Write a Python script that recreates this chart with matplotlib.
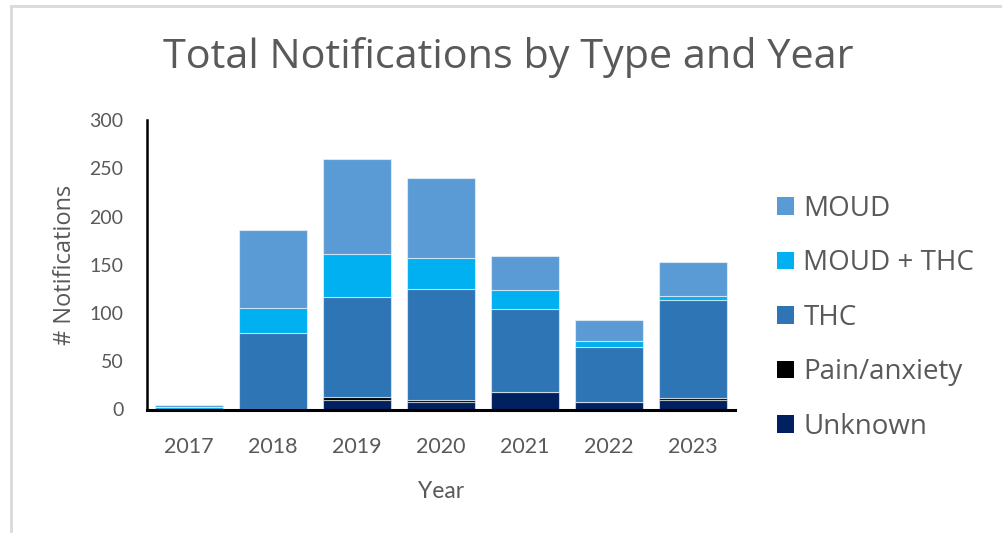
import matplotlib
matplotlib.use("Agg")
import matplotlib.pyplot as plt
from matplotlib.patches import Patch
import numpy as np

# Notification counts per year, split by type
years = ["2017", "2018", "2019", "2020", "2021", "2022", "2023"]
unknown = [0, 1, 10, 8, 18, 8, 10]
pain_anxiety = [0, 0, 3, 2, 0, 0, 2]
thc = [1, 78, 104, 115, 86, 57, 101]
moud_thc = [2, 26, 44, 32, 20, 6, 5]
moud = [2, 81, 99, 83, 35, 22, 35]

series = [
    ("Unknown", unknown, "#002060"),
    ("Pain/anxiety", pain_anxiety, "#000000"),
    ("THC", thc, "#2E75B6"),
    ("MOUD + THC", moud_thc, "#00B0F0"),
    ("MOUD", moud, "#5B9BD5"),
]

TEXT = "#595959"
W, H = 1002, 533

fig = plt.figure(figsize=(W / 100, H / 100), dpi=100)
fig.patch.set_facecolor("white")

# light frame along the top and left of the chart area
fig.add_artist(plt.Line2D([11 / W, 11 / W], [0, 1 - 6 / H], transform=fig.transFigure,
                          color="#d9d9d9", lw=2))
fig.add_artist(plt.Line2D([11 / W, 1], [1 - 6 / H, 1 - 6 / H], transform=fig.transFigure,
                          color="#d9d9d9", lw=2))

ax = fig.add_axes([147 / W, 1 - 409.5 / H, (735 - 147) / W, (409.5 - 120) / H])

x = np.arange(len(years))
bottom = np.zeros(len(years))
for name, vals, col in series:
    vals = np.array(vals, dtype=float)
    ax.bar(x, vals, width=0.81, bottom=bottom, color=col,
           edgecolor=(1, 1, 1, 0.55), linewidth=0.8, label=name, zorder=2)
    bottom += vals

ax.set_xlim(-0.5, len(years) - 0.5)
ax.set_ylim(0, 300)
ax.set_yticks(range(0, 301, 50))
ax.set_xticks(x)
ax.set_xticklabels(years)

for s in ["top", "right"]:
    ax.spines[s].set_visible(False)
ax.spines["left"].set_color("black")
ax.spines["left"].set_linewidth(1.8)
ax.spines["bottom"].set_color("black")
ax.spines["bottom"].set_linewidth(2.2)
ax.spines["bottom"].set_zorder(3)

ax.tick_params(axis="both", length=0, colors=TEXT)
ax.tick_params(axis="y", pad=17)
ax.tick_params(axis="x", pad=20)
for lab in ax.get_yticklabels():
    lab.set_fontfamily("Lato")
    lab.set_fontsize(14)
    lab.set_color(TEXT)
for lab in ax.get_xticklabels():
    lab.set_fontfamily("Lato")
    lab.set_fontsize(15.5)
    lab.set_color(TEXT)

ax.set_ylabel("# Notifications", family="Open Sans", fontsize=17, color=TEXT, labelpad=9)
ax.set_xlabel("Year", family="Lato", fontsize=16.5, color=TEXT, labelpad=17)

fig.text(508 / W, 1 - 58 / H, "Total Notifications by Type and Year",
         ha="center", va="center", family="Open Sans", fontsize=29.8, color=TEXT)

handles = [Patch(facecolor=col, edgecolor="none", label=name)
           for name, vals, col in reversed(series)]
leg = fig.legend(handles=handles, loc="upper left",
                 bbox_to_anchor=(777 / W, 1 - 195 / H),
                 frameon=False, prop={"family": "Open Sans", "size": 20},
                 handlelength=0.6, handleheight=0.6, handletextpad=0.35,
                 labelspacing=0.95, borderpad=0, borderaxespad=0)
for t in leg.get_texts():
    t.set_color(TEXT)

fig.savefig("out.png", dpi=100)
